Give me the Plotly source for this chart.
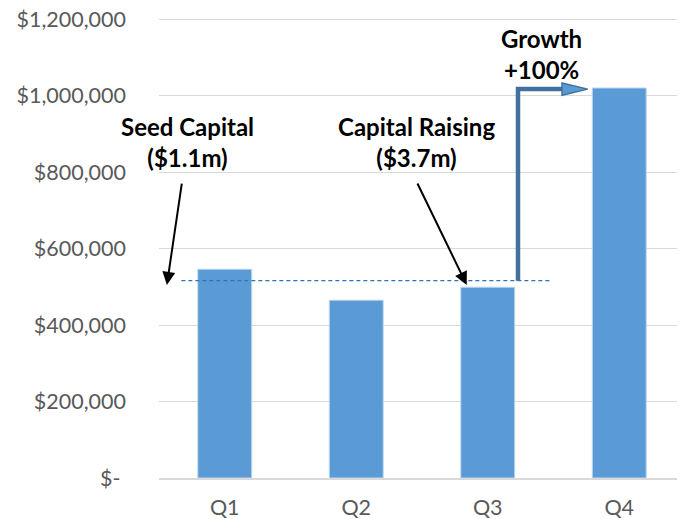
import plotly.graph_objects as go

categories = ["Q1", "Q2", "Q3", "Q4"]
revenue = [546000, 465000, 499000, 1020000]

y_ticks = [0, 200000, 400000, 600000, 800000, 1000000, 1200000]
y_tick_labels = ["$-\u00a0", "$200,000", "$400,000", "$600,000", "$800,000", "$1,000,000", "$1,200,000"]

baseline_level = 516000
growth_level = 1017000

FONT = "Lato, Calibri, Carlito, sans-serif"
GREY = "#595959"
BAR = "#5B9BD5"
DARK = "#41719C"

xpos = list(range(len(categories)))

fig = go.Figure()
fig.add_trace(go.Bar(
    x=xpos, y=revenue, width=0.41,
    marker=dict(color=BAR, line=dict(color="#BDD7EE", width=1)),
    hoverinfo="skip", showlegend=False,
))

shapes = [
    # dashed reference level
    dict(type="line", xref="x", yref="y", x0=-0.33, x1=2.49, y0=baseline_level, y1=baseline_level,
         line=dict(color="#2E75B6", width=1.2, dash="4px,3px")),
    # growth connector
    dict(type="path", xref="x", yref="y",
         path=f"M 2.23 {baseline_level} L 2.23 {growth_level} L 2.57 {growth_level}",
         line=dict(color=DARK, width=4.5)),
    # arrowhead
    dict(type="path", xref="x", yref="y",
         path=f"M 2.565 {growth_level-16000} L 2.76 {growth_level} L 2.565 {growth_level+16000} Z",
         fillcolor=BAR, line=dict(color=DARK, width=1.5)),
]

ANN = dict(family=FONT, size=24, color="black")
annotations = [
    dict(x=-0.44, y=505000, ax=-0.325, ay=774000, xref="x", yref="y", axref="x", ayref="y",
         text="", showarrow=True, arrowhead=2, arrowsize=1.3, arrowwidth=2, arrowcolor="black", standoff=0),
    dict(x=1.84, y=505000, ax=1.46, ay=774000, xref="x", yref="y", axref="x", ayref="y",
         text="", showarrow=True, arrowhead=2, arrowsize=1.3, arrowwidth=2, arrowcolor="black", standoff=0),
    dict(x=-0.28, y=878000, xref="x", yref="y", text="<b>Seed Capital</b><br><b>($1.1m)</b>",
         showarrow=False, font=ANN, align="center"),
    dict(x=1.46, y=878000, xref="x", yref="y", text="<b>Capital Raising</b><br><b>($3.7m)</b>",
         showarrow=False, font=ANN, align="center"),
    dict(x=2.41, y=1108000, xref="x", yref="y", text="<b>Growth</b><br><b>+100%</b>",
         showarrow=False, font=ANN, align="center"),
]

# the page body has an 8px default margin, so the figure is sized to fit the 685x519 window
fig.update_layout(
    width=677, height=511,
    margin=dict(l=151, r=0, t=10, b=41, autoexpand=False),
    paper_bgcolor="white", plot_bgcolor="white",
    font=dict(family=FONT, color=GREY, size=21.5),
    shapes=shapes, annotations=annotations,
    bargap=0.59,
)
fig.update_xaxes(
    range=[-0.5, 3.5], tickvals=xpos, ticktext=categories, automargin=False,
    showgrid=False, zeroline=False, showline=True, linecolor="#D9D9D9", linewidth=1.5,
    ticks="", ticklabelstandoff=9, ticklabeloverflow="allow", tickfont=dict(size=21.5, color=GREY),
)
fig.update_yaxes(
    # small headroom so the top gridline is not clipped at the plot edge
    range=[0, 1203000], tickvals=y_ticks, ticktext=y_tick_labels, automargin=False,
    showgrid=True, gridcolor="#D9D9D9", gridwidth=1.3, zeroline=False, showline=False,
    ticks="", ticklabelstandoff=32, ticklabeloverflow="allow", tickfont=dict(size=21.5, color=GREY),
)

fig.write_html("out.html")
